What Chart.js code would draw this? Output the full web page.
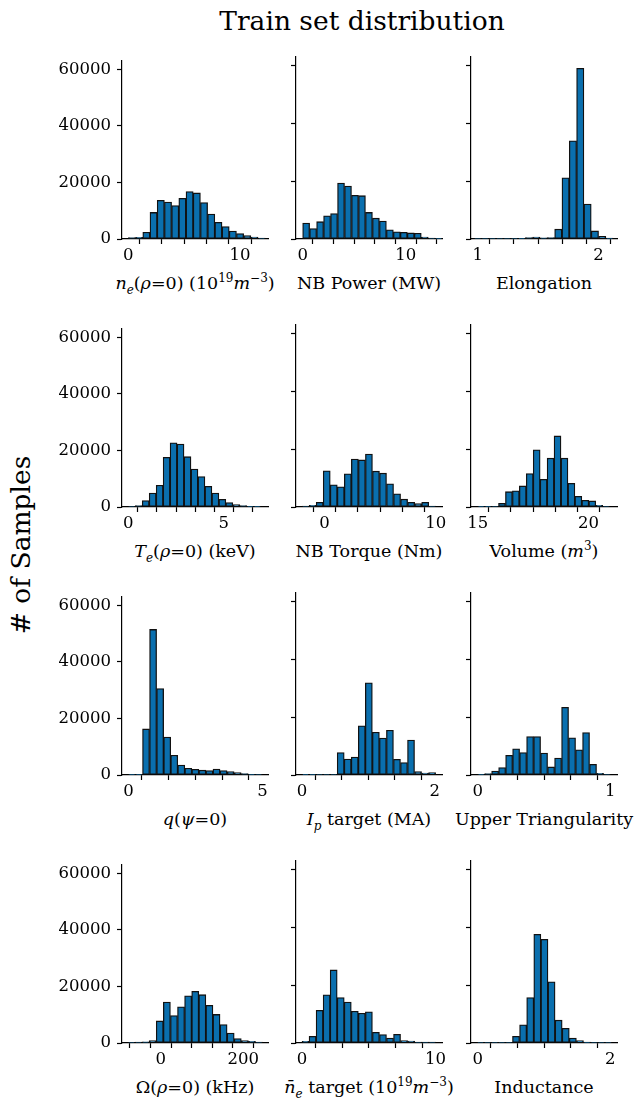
<!DOCTYPE html>
<html>
<head>
<meta charset="utf-8">
<script src="https://cdn.jsdelivr.net/npm/chart.js@4.4.1/dist/chart.umd.min.js"></script>
<style>
body { margin: 0; background: #fff; font-family: "DejaVu Serif", serif; color: #000; }
#wrap { position: relative; width: 635px; height: 1099px; overflow: hidden; }
#wrap canvas { position: absolute; }
.xl { position: absolute; font-size: 17.5px; white-space: nowrap; transform: translate(-50%, -50%); }
.xl sub, .xl sup { font-size: 12px; line-height: 0; }
#title { position: absolute; left: 362px; top: 20px; transform: translate(-50%, -50%); font-size: 26.5px; white-space: nowrap; }
#ylab { position: absolute; left: 20px; top: 545px; transform: translate(-50%, -50%) rotate(-90deg); font-size: 26.5px; white-space: nowrap; }
</style>
</head>
<body>
<div id="wrap">
  <div id="title">Train set distribution</div>
  <div id="ylab"># of Samples</div>
</div>
<script>
// shared y axis
const yMax = 63000;
const yTicks = [0, 20000, 40000, 60000];

// histogram counts (bin start, bin width, counts)
const neBins = [0, 0.645];
const neCounts = [500, 600, 2400, 9400, 13700, 13100, 11800, 14400, 16800, 16300, 12900, 8800, 5900, 4400, 2800, 1900, 1200, 700, 350];
const pwrBins = [0, 0.677];
const pwrCounts = [5500, 3600, 6000, 8000, 8800, 19400, 18300, 15100, 15000, 9200, 7200, 6200, 3200, 2500, 2300, 2100, 2000, 700, 350, 100];
const elongBins = [0.971, 0.0605];
const elongCounts = [30, 30, 30, 30, 200, 200, 100, 500, 700, 400, 500, 3400, 21200, 34000, 59100, 12100, 2800, 900, 300];
const teBins = [0, 0.365];
const teCounts = [200, 500, 2300, 4900, 7700, 17600, 22700, 22300, 17800, 13400, 10800, 7300, 4900, 2700, 1600, 900, 500, 250, 100];
const trqBins = [-2.0, 0.632];
const trqCounts = [350, 600, 1600, 12500, 7700, 7000, 11500, 16600, 16300, 18300, 12400, 11700, 8000, 4600, 2700, 1600, 1200, 1600, 350];
const volBins = [15.0, 0.313];
const volCounts = [100, 100, 200, 1300, 5300, 5600, 7300, 11600, 19800, 9600, 16900, 24600, 16900, 8200, 3700, 2300, 2100, 600, 150];
const qBins = [0, 0.263];
const qCounts = [100, 100, 16300, 51500, 30600, 13400, 7000, 3500, 2400, 2000, 1700, 1600, 2100, 1600, 1200, 900, 500, 250, 150];
const ipBins = [0, 0.106];
const ipCounts = [100, 100, 150, 200, 200, 7800, 5500, 6200, 17000, 31900, 14800, 12800, 15500, 5400, 4300, 12100, 1200, 700, 800];
const triBins = [0, 0.0527];
const triCounts = [100, 500, 1400, 2600, 6800, 9100, 7800, 13300, 13300, 7600, 2800, 5900, 23400, 12900, 8700, 14700, 3700, 600, 150];
const omBins = [-80, 17.2];
const omCounts = [200, 350, 450, 900, 7800, 14500, 9700, 12800, 16700, 18300, 17100, 13300, 10100, 6500, 3500, 1600, 900, 600, 350];
const nbarBins = [0, 0.527];
const nbarCounts = [600, 2300, 11300, 16700, 25300, 15700, 14200, 11000, 10300, 10800, 3700, 2900, 1700, 3000, 800, 700, 350, 350, 350];
const indBins = [-0.01, 0.107];
const indCounts = [20, 20, 20, 20, 20, 2300, 6300, 15700, 37600, 35900, 21200, 7900, 5100, 1700, 800, 300, 200, 150, 150];

// x tick marks and the ones that carry a label
const neTicks = [0, 2, 4, 6, 8, 10, 12], neShown = [0, 10];
const pwrTicks = [0, 2, 4, 6, 8, 10, 12], pwrShown = [0, 10];
const elongTicks = [1, 1.2, 1.4, 1.6, 1.8, 2], elongShown = [1, 2];
const teTicks = [0, 1, 2, 3, 4, 5, 6, 7], teShown = [0, 5];
const trqTicks = [-2, 0, 2, 4, 6, 8, 10], trqShown = [0, 10];
const volTicks = [15, 16, 17, 18, 19, 20, 21], volShown = [15, 20];
const qTicks = [0, 1, 2, 3, 4, 5], qShown = [0, 5];
const ipTicks = [0, 0.4, 0.8, 1.2, 1.6, 2], ipShown = [0, 2];
const triTicks = [0, 0.2, 0.4, 0.6, 0.8, 1], triShown = [0, 1];
const omTicks = [-50, 0, 50, 100, 150, 200, 250], omShown = [0, 200];
const nbarTicks = [0, 2, 4, 6, 8, 10], nbarShown = [0, 10];
const indTicks = [0, 0.4, 0.8, 1.2, 1.6, 2], indShown = [0, 2];

// axis titles
const neTitle = '<i>n</i><sub><i>e</i></sub>(<i>ρ</i>=0) (10<sup>19</sup><i>m</i><sup>−3</sup>)';
const teTitle = '<i>T</i><sub><i>e</i></sub>(<i>ρ</i>=0) (keV)';
const qTitle = '<i>q</i>(<i>ψ</i>=0)';
const omTitle = 'Ω(<i>ρ</i>=0) (kHz)';
const ipTitle = '<i>I</i><sub><i>p</i></sub> target (MA)';
const nbarTitle = '<i>n̄</i><sub><i>e</i></sub> target (10<sup>19</sup><i>m</i><sup>−3</sup>)';
const volTitle = 'Volume (<i>m</i><sup>3</sup>)';

const panels = [
  { bins: neBins, counts: neCounts, ticks: neTicks, shown: neShown, range: [-0.57, 12.5], title: neTitle },
  { bins: pwrBins, counts: pwrCounts, ticks: pwrTicks, shown: pwrShown, range: [-0.645, 13.52], title: 'NB Power (MW)' },
  { bins: elongBins, counts: elongCounts, ticks: elongTicks, shown: elongShown, range: [0.945, 2.152], title: 'Elongation' },
  { bins: teBins, counts: teCounts, ticks: teTicks, shown: teShown, range: [-0.33, 7.32], title: teTitle },
  { bins: trqBins, counts: trqCounts, ticks: trqTicks, shown: trqShown, range: [-2.55, 10.57], title: 'NB Torque (Nm)' },
  { bins: volBins, counts: volCounts, ticks: volTicks, shown: volShown, range: [14.7, 21.28], title: volTitle },
  { bins: qBins, counts: qCounts, ticks: qTicks, shown: qShown, range: [-0.24, 5.21], title: qTitle },
  { bins: ipBins, counts: ipCounts, ticks: ipTicks, shown: ipShown, range: [-0.091, 2.11], title: ipTitle },
  { bins: triBins, counts: triCounts, ticks: triTicks, shown: triShown, range: [-0.05, 1.05], title: 'Upper Triangularity' },
  { bins: omBins, counts: omCounts, ticks: omTicks, shown: omShown, range: [-94.3, 260], title: omTitle },
  { bins: nbarBins, counts: nbarCounts, ticks: nbarTicks, shown: nbarShown, range: [-0.45, 10.48], title: nbarTitle },
  { bins: indBins, counts: indCounts, ticks: indTicks, shown: indShown, range: [-0.1, 2.1], title: 'Inductance' }
];

// page layout
const colLeft = [122, 296, 471];
const plotW = 146;
const rowBase = [239, 507, 775, 1043];
const plotH = 182;
const padTop = 12, padRight = 14, xAxisH = 32;

const font = { family: "DejaVu Serif", size: 16.5 };
const wrap = document.getElementById("wrap");

panels.forEach((p, k) => {
  const col = k % 3, row = Math.floor(k / 3);
  const yW = col === 0 ? 70 : 14;
  const cv = document.createElement("canvas");
  const w = yW + plotW + padRight, h = padTop + plotH + xAxisH;
  cv.width = w; cv.height = h;
  cv.style.left = (colLeft[col] - yW) + "px";
  cv.style.top = (rowBase[row] - plotH - padTop) + "px";
  cv.style.width = w + "px"; cv.style.height = h + "px";
  wrap.appendChild(cv);

  const pts = p.counts.map((c, i) => ({ x: p.bins[0] + (i + 0.5) * p.bins[1], y: c }));

  new Chart(cv, {
    type: "bar",
    data: {
      datasets: [{
        data: pts,
        backgroundColor: "#0a6fae",
        borderColor: "#111",
        borderWidth: 1.3,
        borderSkipped: false,
        barPercentage: 1,
        categoryPercentage: 1
      }]
    },
    options: {
      responsive: false,
      animation: false,
      devicePixelRatio: 1,
      layout: { padding: { top: padTop, right: padRight, left: 0, bottom: 0 } },
      plugins: { legend: { display: false }, tooltip: { enabled: false } },
      scales: {
        x: {
          type: "linear",
          offset: false,
          min: p.range[0], max: p.range[1],
          afterBuildTicks: s => { s.ticks = p.ticks.map(v => ({ value: v })); },
          afterFit: s => { s.height = xAxisH; },
          grid: { drawOnChartArea: false, drawTicks: true, tickLength: 5, color: "#000", tickWidth: 1.2 },
          border: { display: true, color: "#000", width: 1.2 },
          ticks: {
            autoSkip: false, maxRotation: 0, padding: 2, color: "#000", font: font,
            callback: v => p.shown.some(s => Math.abs(s - v) < 1e-9) ? String(v) : ""
          }
        },
        y: {
          min: 0, max: yMax,
          afterBuildTicks: s => { s.ticks = yTicks.map(v => ({ value: v })); },
          afterFit: s => { s.width = yW; },
          grid: { drawOnChartArea: false, drawTicks: true, tickLength: 5, color: "#000", tickWidth: 1.2 },
          border: { display: true, color: "#000", width: 1.2 },
          ticks: { display: col === 0, padding: 6, color: "#000", font: font, callback: v => String(v) }
        }
      }
    }
  });

  const lab = document.createElement("div");
  lab.className = "xl";
  lab.innerHTML = p.title;
  lab.style.left = (colLeft[col] + plotW / 2) + "px";
  lab.style.top = (rowBase[row] + 44) + "px";
  wrap.appendChild(lab);
});
</script>
</body>
</html>
